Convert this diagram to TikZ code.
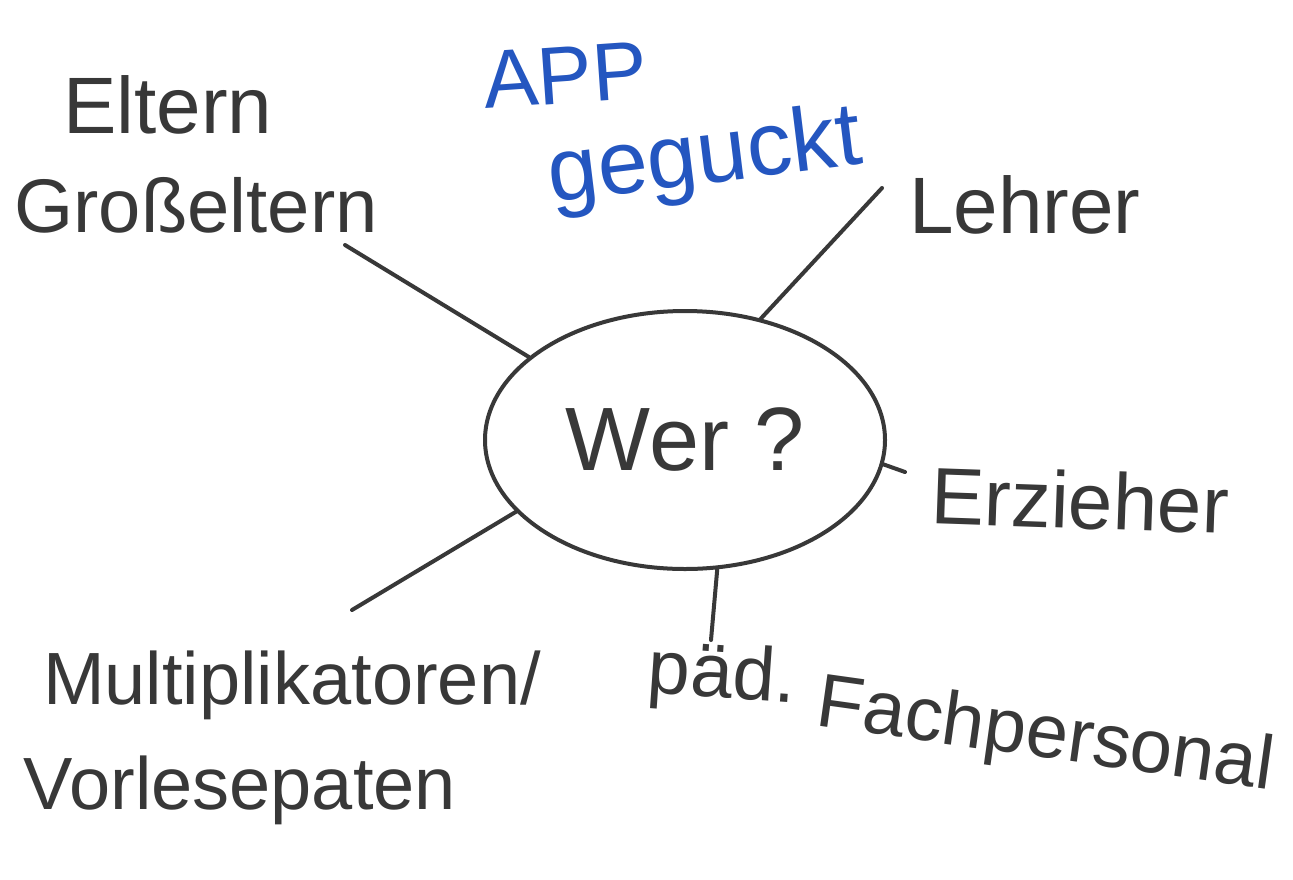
\documentclass[tikz,border=0pt]{standalone}
\usepackage{fontspec}
\setmainfont{Liberation Sans}
\usetikzlibrary{shapes.geometric}
\definecolor{ink}{HTML}{383838}
\definecolor{blueink}{HTML}{2456C0}
\tikzset{
  hw/.style={text=ink, inner sep=0pt, anchor=center},
  conn/.style={draw=ink, line width=4pt, line cap=round},
}
\begin{document}
\begin{tikzpicture}[x=1pt,y=-1pt]
\path[use as bounding box, fill=white] (0,0) rectangle (1293,879);
% center
\node[ellipse, draw=ink, line width=4pt, minimum width=400pt, minimum height=258pt, inner sep=0pt,
      text=ink, font=\fontsize{90}{100}\selectfont] (wer) at (685,440) {Wer ?};
% texts
\node[hw, font=\fontsize{80}{88}\selectfont] (eltern) at (168,105) {Eltern};
\node[hw, font=\fontsize{76}{84}\selectfont] (gross) at (196,205) {Großeltern};
\node[hw, text=blueink, font=\fontsize{82}{90}\selectfont, rotate=4] (app) at (565,75) {APP};
\node[hw, text=blueink, font=\fontsize{90}{98}\selectfont, rotate=7] (geguckt) at (705,160) {geguckt};
\node[hw, font=\fontsize{80}{88}\selectfont] (lehrer) at (1025,205) {Lehrer};
\node[hw, font=\fontsize{80}{88}\selectfont, rotate=-2] (erzieher) at (1080,500) {Erzieher};
\node[hw, font=\fontsize{74}{82}\selectfont] (multi) at (292,685) {Multiplikatoren/};
\node[hw, font=\fontsize{74}{82}\selectfont] (vorlese) at (240,790) {Vorlesepaten};
\node[hw, font=\fontsize{76}{84}\selectfont, rotate=-4] (paed) at (722,678) {päd.};
\node[hw, font=\fontsize{76}{84}\selectfont, rotate=-8] (fach) at (1045,738) {Fachpersonal};
% connector ends
\coordinate (e1) at (345,245);
\coordinate (l1) at (882,188);
\coordinate (z1) at (905,472);
\coordinate (p1) at (711,640);
\coordinate (m1) at (352,610);
\draw[conn] (e1) -- (wer.152);
\draw[conn] (l1) -- (wer.58);
\draw[conn] (z1) -- (wer.-7);
\draw[conn] (p1) -- (wer.-76);
\draw[conn] (m1) -- (wer.203);
\end{tikzpicture}
\end{document}
